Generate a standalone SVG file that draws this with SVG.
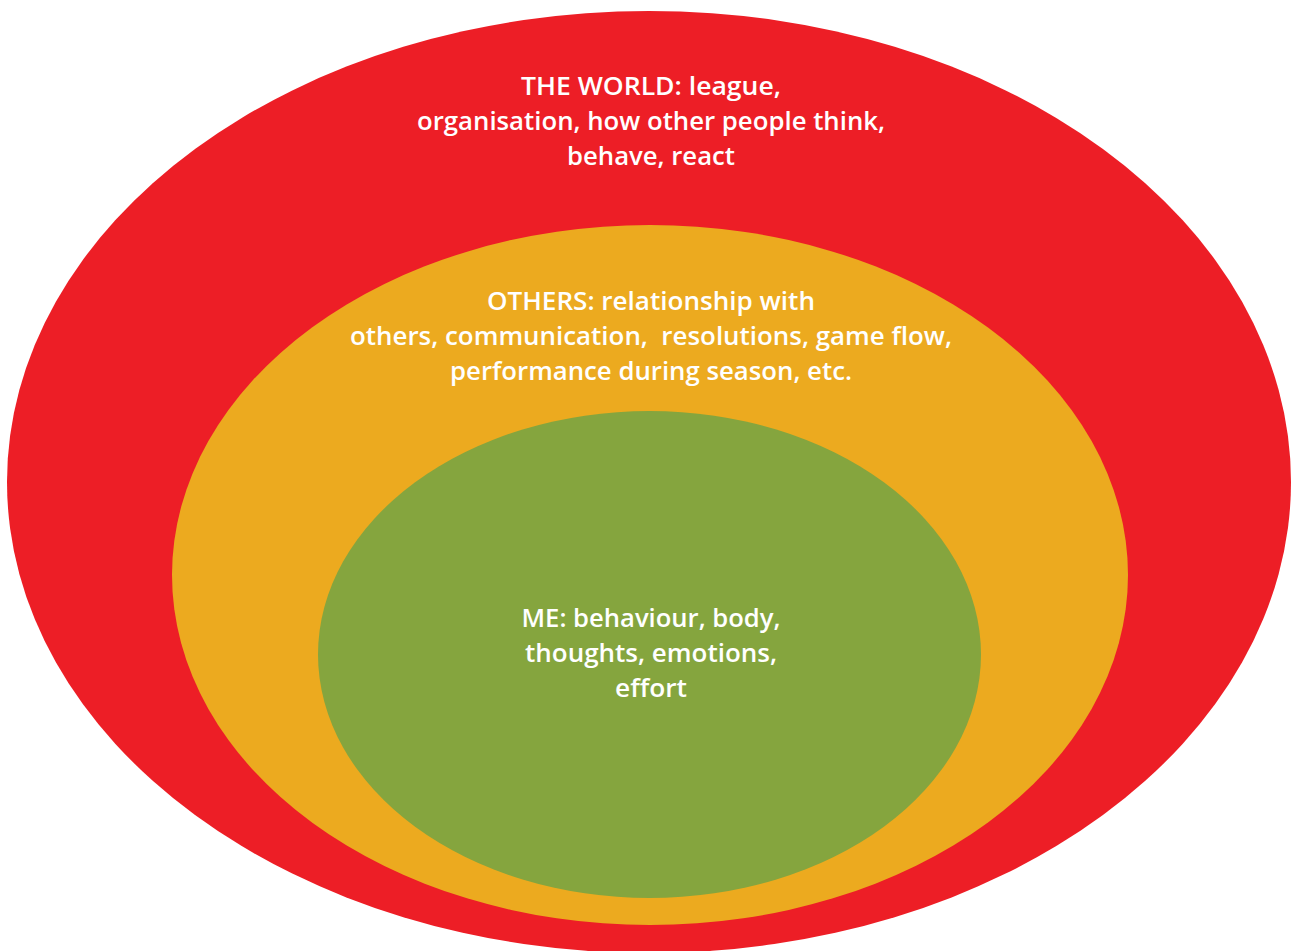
<svg xmlns="http://www.w3.org/2000/svg" width="1293" height="951" viewBox="0 0 1293 951">
<style>
text{font-family:"Open Sans","Noto Sans","Liberation Sans",sans-serif;font-weight:600;font-size:26px;fill:#ffffff;text-anchor:middle}
</style>
<rect width="1293" height="951" fill="#ffffff"/>
<g id="world">
<ellipse cx="649" cy="482" rx="642" ry="471" fill="#ED1E26"/>
<text x="651" y="95" textLength="260" lengthAdjust="spacingAndGlyphs">THE WORLD: league,</text>
<text x="651" y="130" textLength="468" lengthAdjust="spacingAndGlyphs">organisation, how other people think,</text>
<text x="651" y="165" textLength="168" lengthAdjust="spacingAndGlyphs">behave, react</text>
</g>
<g id="others">
<ellipse cx="650" cy="575" rx="478" ry="350" fill="#ECAA1F"/>
<text x="651" y="310" textLength="328" lengthAdjust="spacingAndGlyphs">OTHERS: relationship with</text>
<text x="651" y="345" textLength="602" lengthAdjust="spacingAndGlyphs" xml:space="preserve">others, communication,  resolutions, game flow,</text>
<text x="651" y="380" textLength="402" lengthAdjust="spacingAndGlyphs">performance during season, etc.</text>
</g>
<g id="me">
<ellipse cx="649.5" cy="654.5" rx="331.5" ry="243.5" fill="#85A53E"/>
<text x="651" y="627" textLength="259" lengthAdjust="spacingAndGlyphs">ME: behaviour, body,</text>
<text x="651" y="662" textLength="252" lengthAdjust="spacingAndGlyphs">thoughts, emotions,</text>
<text x="651" y="697" textLength="72" lengthAdjust="spacingAndGlyphs">effort</text>
</g>
<g id="connectors"/>
</svg>
